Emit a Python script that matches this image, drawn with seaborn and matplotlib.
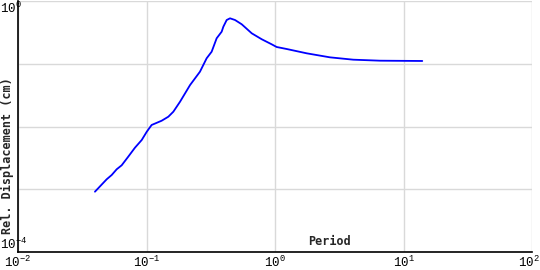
import math
import matplotlib
matplotlib.use("Agg")
import matplotlib.pyplot as plt
import matplotlib.ticker as mticker
import matplotlib.transforms as mtrans
import seaborn as sns
import pandas as pd

period = [0.0397, 0.0490, 0.0536, 0.0586, 0.0641, 0.0721, 0.0813, 0.0918, 0.1005,
          0.1096, 0.1312, 0.1479, 0.1618, 0.1824, 0.2183, 0.2606, 0.2938, 0.3214,
          0.3516, 0.3846, 0.3963, 0.4207, 0.4467, 0.4887, 0.5508, 0.6592, 0.7889,
          0.9419, 1.030, 1.233, 1.766, 2.679, 4.064, 6.561, 14.0]
displacement = [0.000914, 0.001442, 0.001687, 0.002080, 0.002410, 0.003304, 0.004592,
                0.006095, 0.008260, 0.01057, 0.01236, 0.01432, 0.01722, 0.02483,
                0.04581, 0.07464, 0.1222, 0.1556, 0.2547, 0.3243, 0.3890, 0.4977,
                0.5297, 0.4977, 0.4256, 0.3055, 0.2455, 0.2042, 0.1849, 0.1718,
                0.1466, 0.1265, 0.1161, 0.1119, 0.1107]

x_label = "Period"
y_label = "Rel. Displacement (cm)"

sns.set_style("white")
plt.rcParams["mathtext.fontset"] = "custom"
plt.rcParams["mathtext.rm"] = "Liberation Mono"
plt.rcParams["mathtext.it"] = "Liberation Mono"
plt.rcParams["font.family"] = ["Liberation Mono", "DejaVu Sans Mono"]

df = pd.DataFrame({"period": period, "disp": displacement})

fig = plt.figure(figsize=(5.4, 2.7), dpi=100)
ax = fig.add_axes([18 / 540, 1 - 252 / 270, (532 - 18) / 540, 251 / 270])

sns.lineplot(data=df, x="period", y="disp", ax=ax, color="#0000ff", lw=1.3,
             sort=False, estimator=None)
ax.set_xscale("log")
ax.set_yscale("log")
ax.set_xlim(1e-2, 1e2)
ax.set_ylim(1e-4, 1e0)

ax.xaxis.set_major_locator(mticker.FixedLocator([1e-2, 1e-1, 1e0, 1e1, 1e2]))
ax.yaxis.set_major_locator(mticker.FixedLocator([1e-4, 1e-3, 1e-2, 1e-1, 1e0]))
ax.xaxis.set_minor_locator(mticker.NullLocator())
ax.yaxis.set_minor_locator(mticker.NullLocator())

ax.xaxis.set_major_formatter(mticker.FuncFormatter(
    lambda v, p: "10$^{%d}$" % round(math.log10(v))))


def yfmt(v, p):
    e = round(math.log10(v))
    if e in (0, -4):
        return "10$^{%d}$" % e
    return ""


ax.yaxis.set_major_formatter(mticker.FuncFormatter(yfmt))

ax.grid(True, color="#d9d9d9", lw=1)
for s in ["top", "right"]:
    ax.spines[s].set_visible(False)
for s in ["left", "bottom"]:
    ax.spines[s].set_color("black")
    ax.spines[s].set_linewidth(1.2)

ax.tick_params(axis="both", direction="in", length=4, width=1, colors="black",
               labelsize=9)
ax.tick_params(axis="x", pad=2)
ax.tick_params(axis="y", pad=0.5)

fig.canvas.draw()
for lbl in ax.get_yticklabels():
    t = lbl.get_text()
    if not t:
        continue
    lbl.set_va("bottom" if "-4" in t else "top")
    lbl.set_ha("left")
    lbl.set_transform(lbl.get_transform() +
                      mtrans.ScaledTranslation(-17.5 / 100, 0, fig.dpi_scale_trans))
for lbl in ax.get_xticklabels():
    if "{2}" in lbl.get_text():
        lbl.set_ha("right")
        lbl.set_transform(lbl.get_transform() +
                          mtrans.ScaledTranslation(8 / 100, 0, fig.dpi_scale_trans))

ax.set_xlabel(x_label, fontsize=8.5, fontweight="bold", family="DejaVu Sans Mono")
ax.xaxis.set_label_coords(0.607, 0.04)
ax.xaxis.label.set_va("center")
ax.set_ylabel(y_label, fontsize=8.5, fontweight="bold", family="DejaVu Sans Mono")
ax.yaxis.set_label_coords(-0.021, 0.382)
ax.yaxis.label.set_va("center")

fig.savefig("out.png", dpi=100)
